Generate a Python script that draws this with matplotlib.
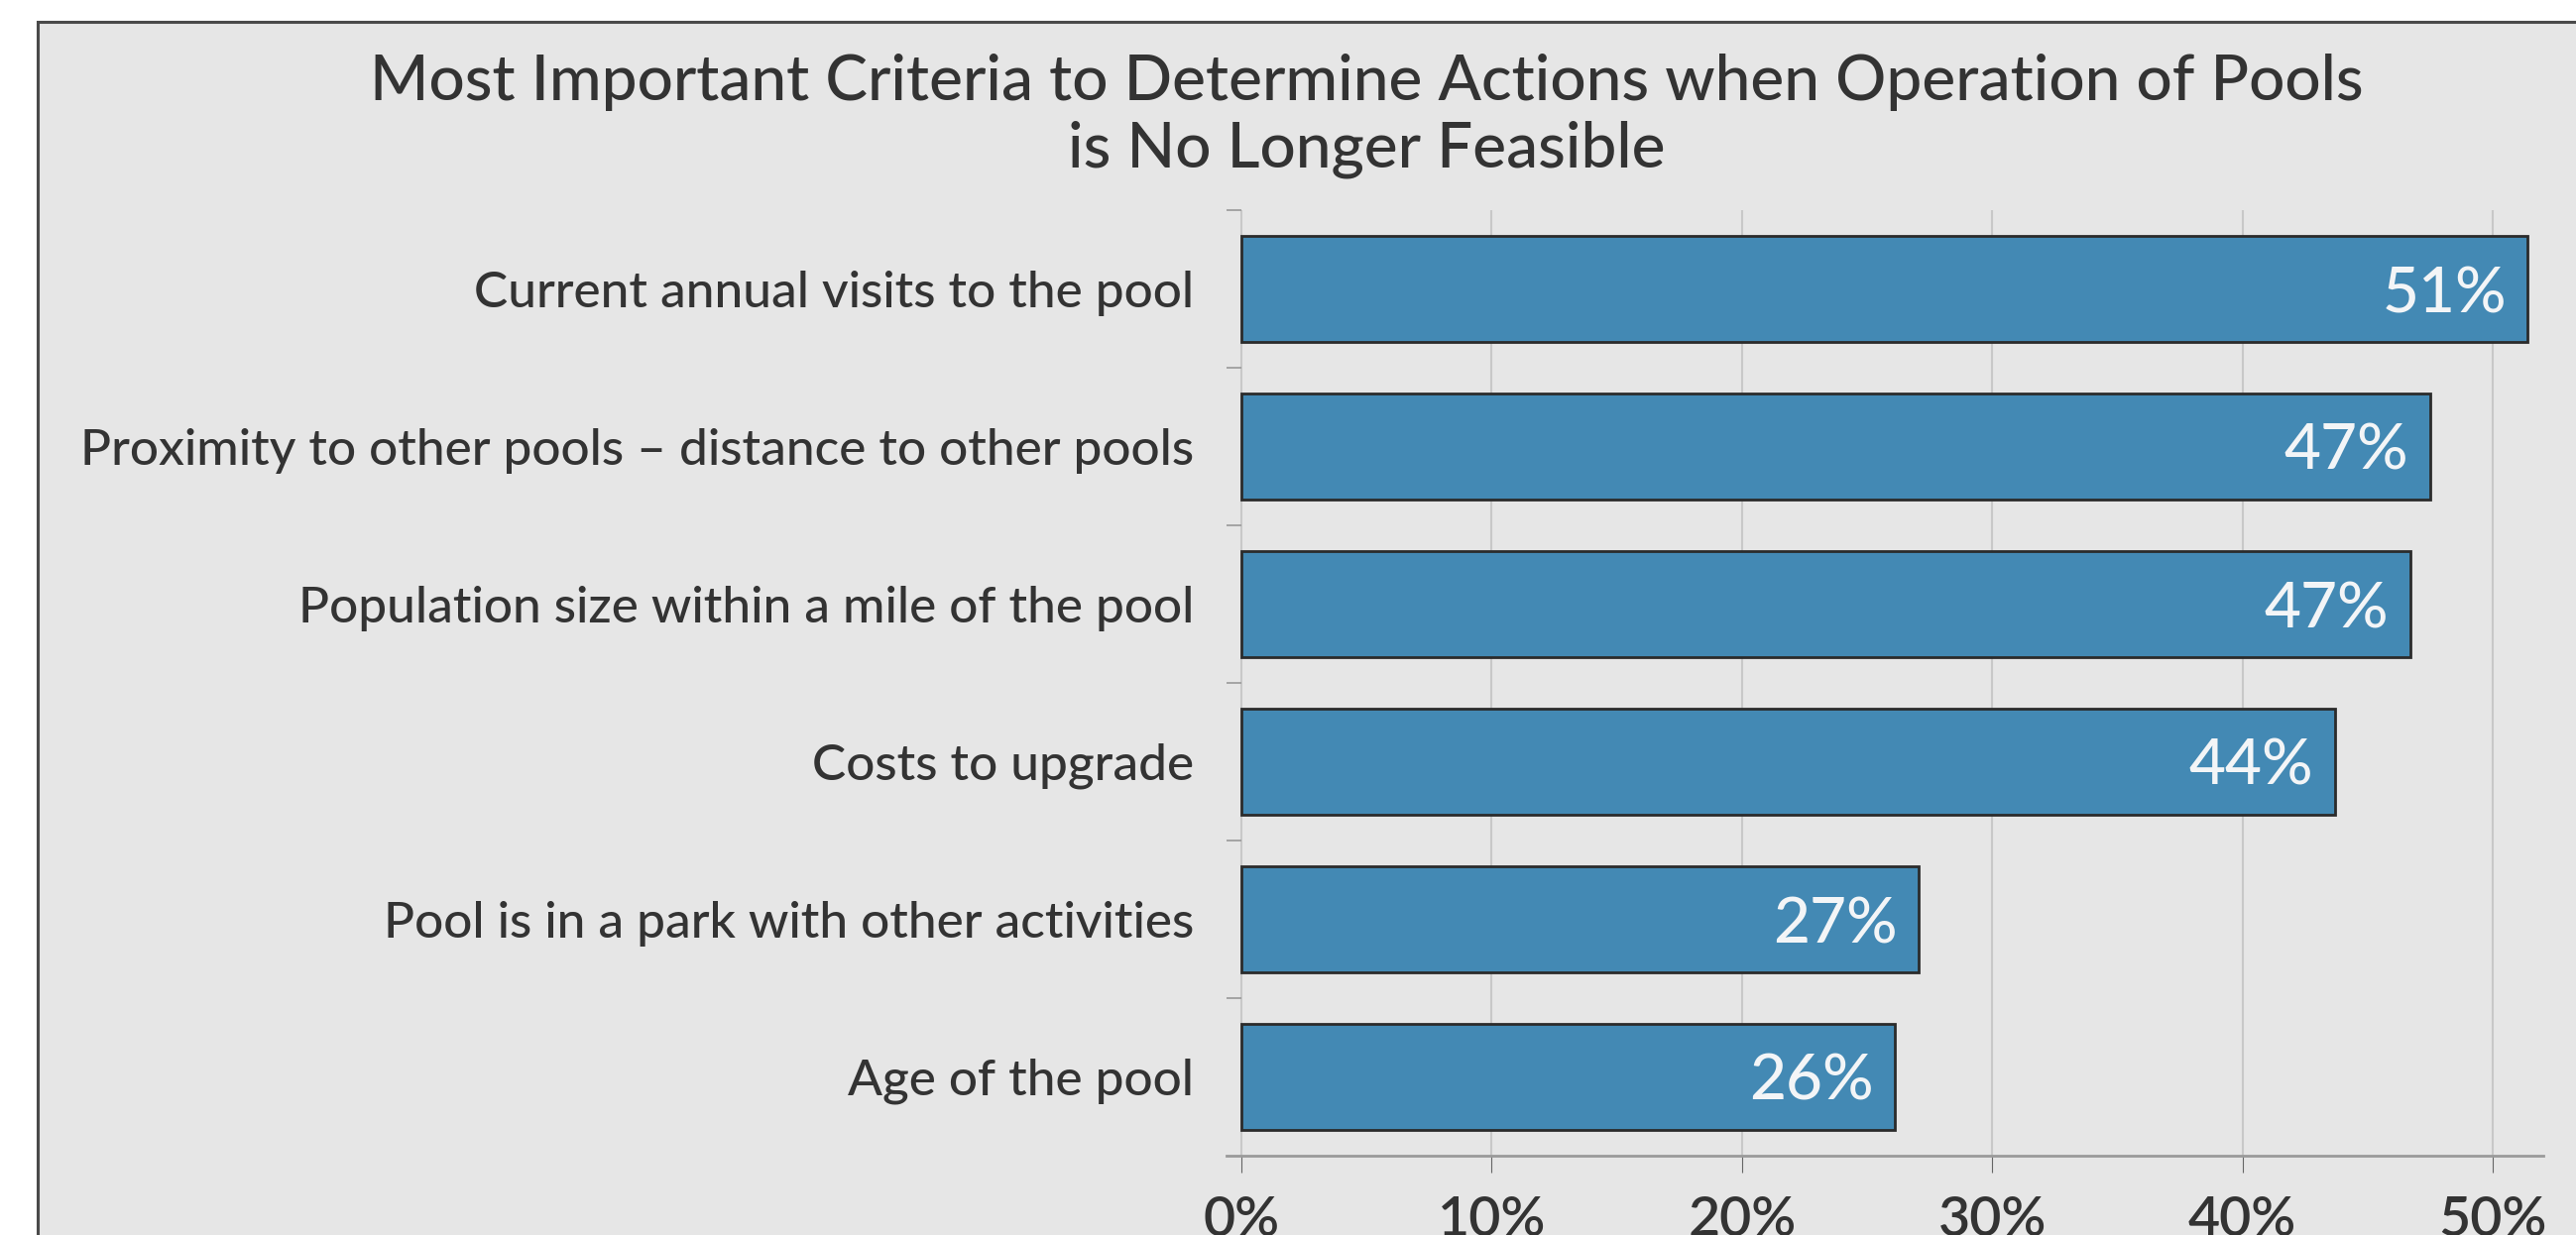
import matplotlib.pyplot as plt
from matplotlib.patches import Rectangle
from matplotlib.ticker import FixedLocator, PercentFormatter

plt.rcParams['font.family'] = ['Lato', 'DejaVu Sans']

# Data
criteria = [
    "Current annual visits to the pool",
    "Proximity to other pools \u2013 distance to other pools",
    "Population size within a mile of the pool",
    "Costs to upgrade",
    "Pool is in a park with other activities",
    "Age of the pool",
]
shares = [51.4, 47.5, 46.7, 43.7, 27.05, 26.1]
share_labels = ["51%", "47%", "47%", "44%", "27%", "26%"]
x_ticks = [0, 10, 20, 30, 40, 50]

W, H = 2598, 1246
fig = plt.figure(figsize=(W / 100, H / 100), dpi=100)
fig.patch.set_facecolor("white")

# grey panel, cropped on right and bottom
fig.patches.append(Rectangle((38 / W, -0.1), 1.2, 1 - 22 / H + 0.1,
                             transform=fig.transFigure, facecolor="#e6e6e6",
                             edgecolor="#4a4a4a", linewidth=2.2, zorder=-5))

# title (baseline of last line)
fig.text(1378 / W, 1 - 169 / H,
         "Most Important Criteria to Determine Actions when Operation of Pools\nis No Longer Feasible",
         ha="center", va="baseline", fontsize=46, fontweight="medium",
         color="#333333", linespacing=1.22)

ax = fig.add_axes([1236.9 / W, 80 / H, (2564.5 - 1236.9) / W, (1166 - 212) / H])
ax.set_facecolor("none")

y = list(range(len(criteria)))
ax.barh(y, shares, height=0.667, color="#4389b4", edgecolor="#2b2b2b",
        linewidth=2, zorder=3)

for yi, v, lab in zip(y, shares, share_labels):
    ax.text(v - 0.85, yi, lab, ha="right", va="center_baseline",
            fontsize=46, fontweight="medium", color="#f3f5f7", zorder=4)

ax.set_xlim(-0.6, 52)
ax.set_ylim(5.5, -0.5)

ax.set_xticks(x_ticks)
ax.xaxis.set_major_formatter(PercentFormatter(decimals=0))
ax.tick_params(axis="x", length=12, width=0.8, color="#666666",
               labelsize=40, labelcolor="#333333", pad=17)
for t in ax.get_xticklabels():
    t.set_fontweight("semibold")

ax.yaxis.set_major_locator(FixedLocator([i - 0.5 for i in y]))
ax.yaxis.set_major_formatter(plt.NullFormatter())
ax.tick_params(axis="y", length=11, width=1.2, color="#999999")
for yi, name in zip(y, criteria):
    ax.text(-0.6 - 33 / 25.24, yi, name, ha="right", va="center_baseline",
            fontsize=37, fontweight="medium", color="#333333")

ax.grid(axis="x", color="#c8c8c8", linewidth=1.5, zorder=0)

for s in ["top", "right"]:
    ax.spines[s].set_visible(False)
ax.spines["left"].set_position(("data", 0))
ax.spines["left"].set_visible(False)
ax.spines["bottom"].set_color("#9a9a9a")
ax.spines["bottom"].set_linewidth(2)

fig.savefig("out.png", dpi=100)
